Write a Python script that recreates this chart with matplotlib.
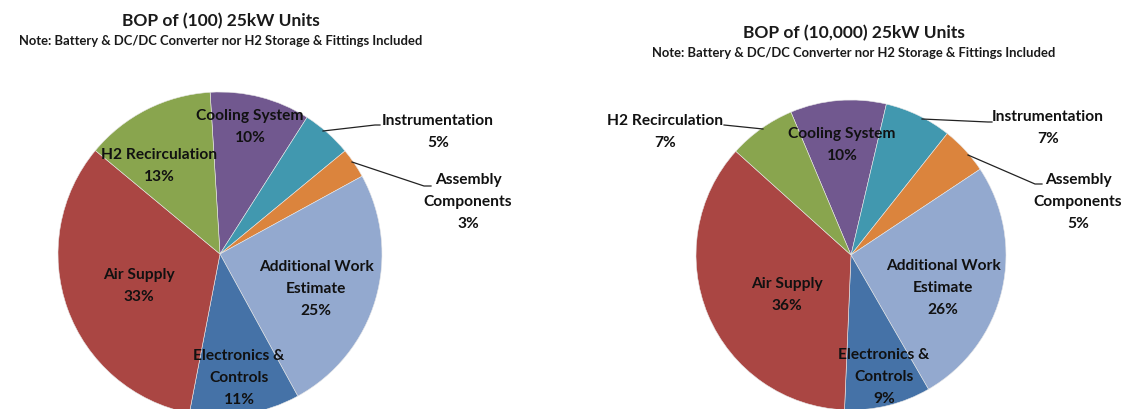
import matplotlib.pyplot as plt

plt.rcParams['font.family'] = ['Lato', 'DejaVu Sans']

# slice order, clockwise from the top
labels = ['Cooling System', 'Instrumentation', 'Assembly\nComponents',
          'Additional Work\nEstimate', 'Electronics &\nControls', 'Air Supply',
          'H2 Recirculation']
units_100 = [10, 5, 3, 25, 11, 33, 13]
units_10000 = [10, 7, 5, 26, 9, 36, 7]
colors = ['#71588F', '#4198AF', '#DB843D', '#93A9CF', '#4572A7', '#AA4643', '#89A54E']

W, H = 1147, 410
fig = plt.figure(figsize=(W / 100, H / 100), dpi=100)
ax = fig.add_axes([0, 0, 1, 1])


def py(y):
    # convert image-style y (top = 0) to axes y
    return H - y


def draw(values, cx, cy, r, start, title, title_x, title_y, lab_pos, leaders):
    ax.pie(values, colors=colors, startangle=start, counterclock=False,
           center=(cx, py(cy)), radius=r, frame=True,
           wedgeprops=dict(edgecolor='#E8E8E8', linewidth=0.4))
    ax.text(title_x, py(title_y), title, ha='center', va='center',
            fontsize=12.5, fontweight='bold', color='#1a1a1a')
    ax.text(title_x, py(title_y + 20), 'Note: Battery & DC/DC Converter nor H2 Storage & Fittings Included',
            ha='center', va='center', fontsize=9.4, fontweight='bold', color='#1a1a1a')
    for lab, v, (x, y) in zip(labels, values, lab_pos):
        ax.text(x, py(y), f'{lab}\n{v}%', ha='center', va='center',
                fontsize=11.2, fontweight='bold', color='#111111', linespacing=1.7)
    for pts in leaders:
        ax.plot([p[0] for p in pts], [py(p[1]) for p in pts], color='#222222', lw=0.9)


draw(units_100, 220, 255, 162, 93.5, 'BOP of (100) 25kW Units', 221, 21,
     [(250, 127), (438, 132), (468, 202), (316, 289), (239, 378), (139, 286), (159, 166)],
     [[(323, 132), (375, 126), (380, 126)], [(352, 163), (424, 187), (431, 187)]])

draw(units_10000, 851, 256, 155, 112.8, 'BOP of (10,000) 25kW Units', 854, 33,
     [(842, 145), (1048, 128), (1078, 202), (943, 288), (884, 377), (787, 295), (665, 132)],
     [[(922, 120), (988, 123), (992, 123)], [(968, 156), (1035, 185), (1042, 185)],
      [(724, 126), (763, 130)]])

ax.set_xlim(0, W)
ax.set_ylim(0, H)
ax.set_aspect('equal')
ax.axis('off')
fig.savefig('out.png', dpi=100, facecolor='white')
